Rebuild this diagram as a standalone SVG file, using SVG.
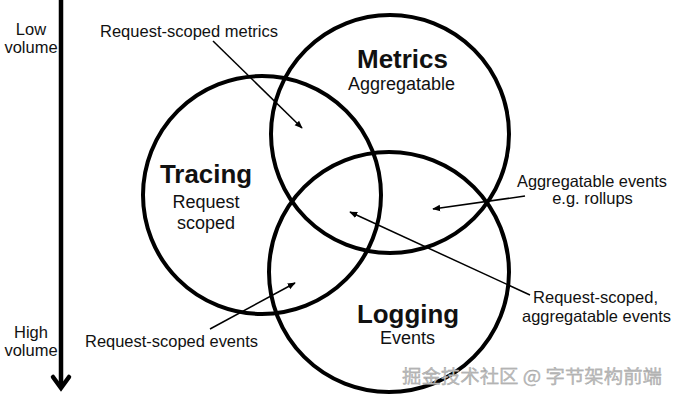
<svg xmlns="http://www.w3.org/2000/svg" width="676" height="400" viewBox="0 0 676 400">
<defs>
<style>
.c{fill:none;stroke:#000;stroke-width:4}
.t{font-family:"Liberation Sans",Arial,sans-serif;fill:#111;text-anchor:middle}
.b{font-weight:bold;font-size:26px}
.s{font-size:18px}
.l{font-size:16.5px}
.a{stroke:#000;stroke-width:1.5;fill:none}
.wm{font-family:"Noto Sans CJK SC",sans-serif;font-size:18px;fill:#bdbdbd;stroke:#9a9a9a;stroke-width:0.3}
</style>
<marker id="ah" viewBox="0 0 10 10" refX="9" refY="5" markerWidth="8" markerHeight="8" markerUnits="userSpaceOnUse" orient="auto">
<path d="M0,1 L10,5 L0,9 Z" fill="#000"/>
</marker>
</defs>
<rect width="676" height="400" fill="#fff"/>
<g id="axis">
<line x1="61" y1="0" x2="61" y2="387" stroke="#000" stroke-width="4.5"/>
<polyline points="53,377 61,388 69,377" fill="none" stroke="#000" stroke-width="4.5" stroke-linecap="round" stroke-linejoin="miter"/>
<text class="t l" x="31" y="35">Low</text>
<text class="t l" x="31" y="53">volume</text>
<text class="t l" x="31" y="338">High</text>
<text class="t l" x="31" y="356">volume</text>
</g>
<g id="metrics">
<circle class="c" cx="390" cy="134" r="119"/>
<text class="t b" x="402.5" y="68" textLength="91" lengthAdjust="spacingAndGlyphs">Metrics</text>
<text class="t s" x="401.5" y="90" textLength="107" lengthAdjust="spacingAndGlyphs">Aggregatable</text>
</g>
<g id="tracing">
<circle class="c" cx="262" cy="195" r="119"/>
<text class="t b" x="206" y="183" textLength="92" lengthAdjust="spacingAndGlyphs">Tracing</text>
<text class="t s" x="206" y="208">Request</text>
<text class="t s" x="206" y="229">scoped</text>
</g>
<g id="logging">
<circle class="c" cx="389" cy="272" r="120"/>
<text class="t b" x="408" y="323" textLength="102" lengthAdjust="spacingAndGlyphs">Logging</text>
<text class="t s" x="407.5" y="344">Events</text>
</g>
<g id="labels">
<text class="t l" x="189" y="37" textLength="178" lengthAdjust="spacingAndGlyphs">Request-scoped metrics</text>
<text class="t l" x="592" y="187" textLength="150" lengthAdjust="spacingAndGlyphs">Aggregatable events</text>
<text class="t l" x="592.5" y="204">e.g. rollups</text>
<text class="t l" x="595.5" y="303" textLength="125" lengthAdjust="spacingAndGlyphs">Request-scoped,</text>
<text class="t l" x="596.5" y="322" textLength="149" lengthAdjust="spacingAndGlyphs">aggregatable events</text>
<text class="t l" x="171.5" y="347" textLength="173" lengthAdjust="spacingAndGlyphs">Request-scoped events</text>
</g>
<g id="connectors">
<line class="a" x1="213" y1="41" x2="302" y2="128" marker-end="url(#ah)"/>
<line class="a" x1="210" y1="329" x2="295" y2="283" marker-end="url(#ah)"/>
<line class="a" x1="525" y1="196" x2="433" y2="209" marker-end="url(#ah)"/>
<line class="a" x1="530" y1="295" x2="350" y2="212" marker-end="url(#ah)"/>
</g>
<text class="wm" x="402" y="383" textLength="260" lengthAdjust="spacingAndGlyphs">掘金技术社区 @ 字节架构前端</text>
</svg>
